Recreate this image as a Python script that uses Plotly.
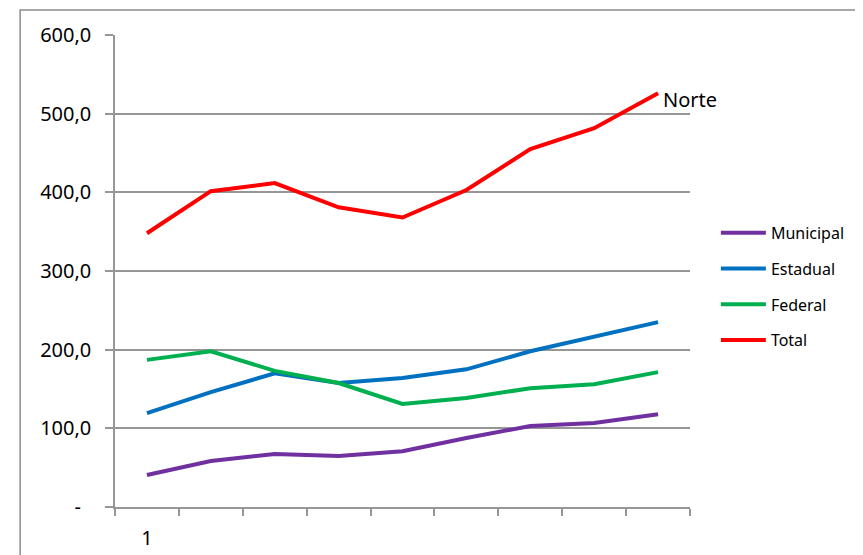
import plotly.graph_objects as go

x_pos = [1, 2, 3, 4, 5, 6, 7, 8, 9]
municipal = [40.7, 58.5, 67.3, 64.8, 71.0, 87.7, 103.0, 106.7, 118.0]
estadual = [119.4, 146.0, 170.0, 157.6, 164.0, 175.0, 198.0, 217.0, 235.0]
federal = [187.0, 198.0, 173.0, 157.6, 131.0, 138.5, 151.0, 156.0, 171.5]
total = [348.0, 401.5, 411.7, 381.0, 368.0, 403.0, 455.0, 481.6, 526.0]

series = [
    ("Municipal", municipal, "#7030A0"),
    ("Estadual", estadual, "#0070C0"),
    ("Federal", federal, "#00B050"),
    ("Total", total, "#FF0000"),
]

y_ticks = [0, 100, 200, 300, 400, 500, 600]
y_ticktext = ["-\u00a0\u00a0", "100,0", "200,0", "300,0", "400,0", "500,0", "600,0"]
x_ticks = [1]
x_ticktext = ["1"]

FONT = "Noto Sans"
GRID = "#969696"

fig = go.Figure()
for i, (name, vals, color) in enumerate(series):
    fig.add_trace(go.Scatter(
        x=x_pos, y=vals, name=name, mode="lines",
        line=dict(color=color, width=4),
        legendgroup=f"g{i}",
    ))

fig.add_annotation(
    x=x_pos[-1], y=total[-1], text="Norte", showarrow=False,
    xanchor="left", yanchor="middle", xshift=3, yshift=-6,
    font=dict(family=FONT, size=20, color="black"),
)

# outer chart border (right and bottom edges fall outside the view)
fig.add_shape(type="rect", xref="paper", yref="paper",
              x0=-0.165, x1=1.33, y0=-0.13, y1=1.053,
              line=dict(color="#8c8c8c", width=1.5), fillcolor="rgba(0,0,0,0)")

fig.update_layout(
    width=863, height=555,
    margin=dict(l=107, r=181, t=27, b=56, autoexpand=False),
    paper_bgcolor="white", plot_bgcolor="white",
    font=dict(family=FONT, size=18, color="black"),
    showlegend=True,
    legend=dict(
        x=1.045, y=0.617, xanchor="left", yanchor="top",
        font=dict(family=FONT, size=16, color="black"),
        traceorder="grouped", tracegroupgap=12,
        itemwidth=45, bgcolor="rgba(0,0,0,0)",
    ),
    xaxis=dict(
        range=[0.5, 9.5], tickvals=x_ticks, ticktext=x_ticktext,
        ticks="", showgrid=False, zeroline=False, automargin=False,
        showline=True, linecolor=GRID, linewidth=1.5,
        minor=dict(tick0=0.5, dtick=1, ticks="outside", ticklen=7,
                   tickcolor=GRID, tickwidth=1.5, showgrid=False),
        tickfont=dict(family=FONT, size=20),
        ticklabelstandoff=12,
    ),
    yaxis=dict(
        range=[0, 600], tickvals=y_ticks, ticktext=y_ticktext,
        ticks="outside", ticklen=8, tickcolor=GRID, tickwidth=1.5,
        showgrid=True, gridcolor=GRID, gridwidth=1.5, zeroline=False,
        automargin=False,
        showline=True, linecolor=GRID, linewidth=1.5,
        tickfont=dict(family=FONT, size=20),
        ticklabelstandoff=10,
    ),
)

fig.write_html("out.html")
